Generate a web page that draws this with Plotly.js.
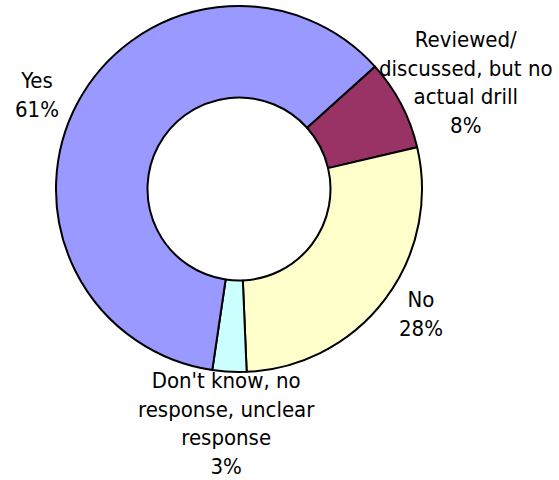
<!DOCTYPE html>
<html>
<head>
<meta charset="utf-8">
<script src="https://cdn.plot.ly/plotly-3.0.1.min.js"></script>
<style>html,body{margin:0;padding:0;background:#fff;}</style>
</head>
<body>
<div id="chart" style="width:559px;height:480px;"></div>
<script>
// Data
const categories = ["Reviewed/<br>discussed, but no<br>actual drill", "No", "Don't know, no<br>response, unclear<br>response", "Yes"];
const values = [8, 28, 3, 61];
const colors = ["#993366", "#FFFFCC", "#CCFFFF", "#9999FF"];
// label centers in pixels (layout only)
const labelPos = [[466, 83], [421, 314], [226, 423], [37, 95]];

const W = 559, H = 480;
const trace = {
  type: "pie",
  labels: categories,
  values: values,
  sort: false,
  direction: "clockwise",
  rotation: 48,
  hole: 0.5,
  textinfo: "none",
  hoverinfo: "label+percent",
  marker: {colors: colors, line: {color: "#000000", width: 2}},
  domain: {x: [(239 - 183) / W, (239 + 183) / W], y: [1 - 372 / H, 1 - 6 / H]},
  showlegend: false
};

const total = values.reduce((a, b) => a + b, 0);
const annotations = categories.map((c, i) => ({
  text: c + "<br>" + Math.round(values[i] / total * 100) + "%",
  x: labelPos[i][0] / W,
  y: 1 - labelPos[i][1] / H,
  xref: "paper", yref: "paper",
  xanchor: "center", yanchor: "middle",
  showarrow: false,
  align: "center",
  font: {family: "DejaVu Sans Condensed, DejaVu Sans", size: 22, color: "#000"}
}));

Plotly.newPlot("chart", [trace], {
  width: W, height: H,
  margin: {l: 0, r: 0, t: 0, b: 0},
  paper_bgcolor: "#ffffff",
  annotations: annotations
}, {displayModeBar: false, staticPlot: true});
</script>
</body>
</html>
